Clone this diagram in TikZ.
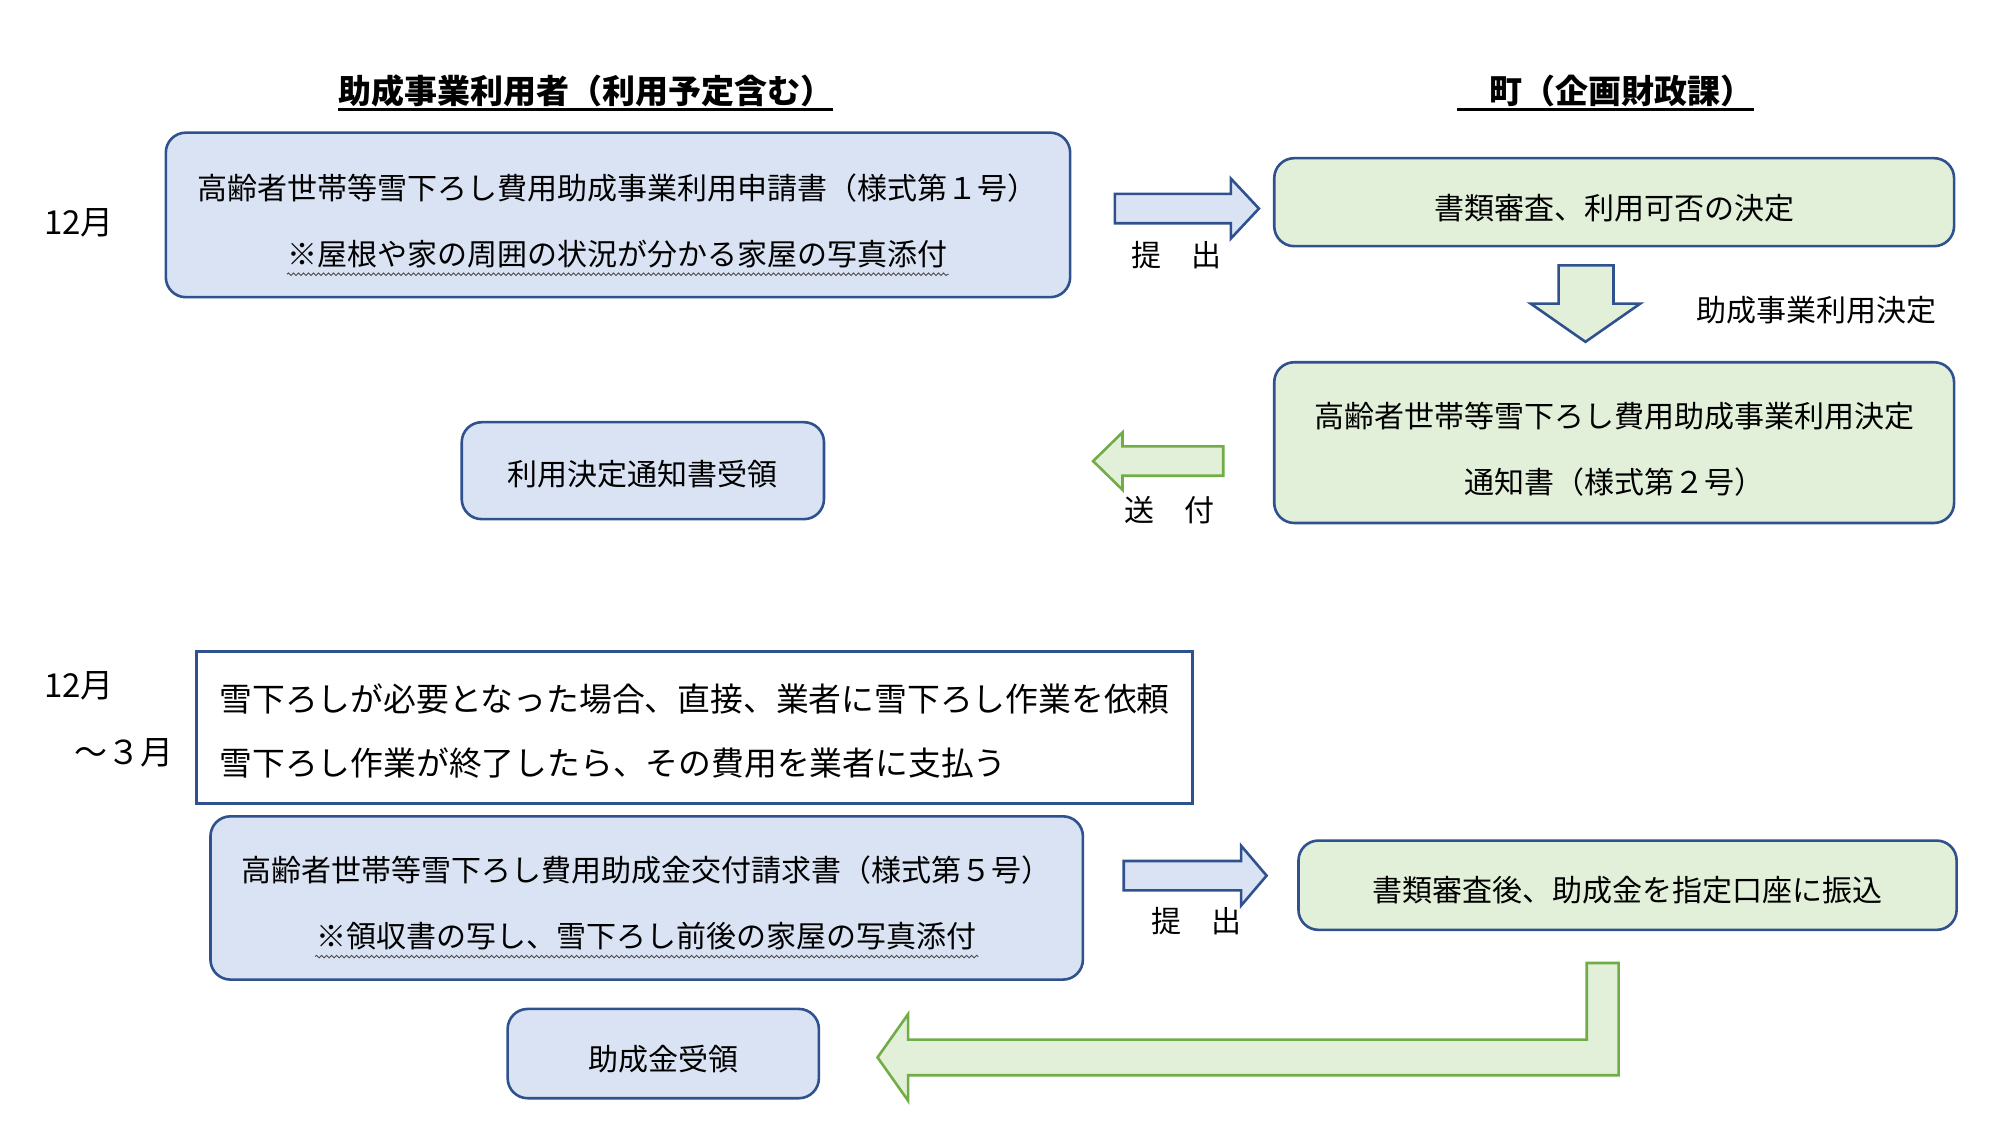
\documentclass[tikz,border=0pt]{standalone}
\usepackage{fontspec}
\setmainfont{Noto Sans CJK JP}
\usetikzlibrary{calc,decorations.pathmorphing}
\definecolor{bfill}{HTML}{DAE3F3}
\definecolor{gfill}{HTML}{E2F0D9}
\definecolor{bord}{HTML}{2F528F}
\definecolor{garr}{HTML}{70AD47}
\begin{document}
\begin{tikzpicture}[x=1.2755pt,y=-1.2755pt,
  sz/.style 2 args={minimum width={#1*1.2755pt}, minimum height={#2*1.2755pt}},
  box/.style={draw=bord, line width=2.6pt, rounded corners=20pt, inner sep=0pt},
  bluebox/.style={box, fill=bfill},
  greenbox/.style={box, fill=gfill},
  plainbox/.style={draw=bord, line width=2.6pt, inner sep=0pt, fill=white},
  txt/.style={inner sep=0pt, align=center, font=\fontsize{30}{66}\selectfont},
  ptxt/.style={inner sep=0pt, align=left, font=\fontsize{32.8}{64}\selectfont},
  lbl/.style={inner sep=0pt, font=\fontsize{30}{36}\selectfont},
  month/.style={inner sep=0pt, font=\fontsize{33}{40}\selectfont},
  title/.style={inner sep=0pt, font=\fontsize{33}{40}\selectfont\bfseries},
  uline/.style={line width=2.4pt},
  wavy/.style={decorate, decoration={snake, amplitude=1.3pt, segment length=5pt}, line width=0.9pt, draw=black!70},
  barrow/.style={draw=bord, fill=bfill, line width=2.6pt},
  garrow/.style={draw=garr, fill=gfill, line width=2.6pt},
  darrow/.style={draw=bord, fill=gfill, line width=2.6pt},
]
\useasboundingbox (0,0) rectangle (1568,900);

% titles
\node[title, anchor=base west] (t1) at (265,81) {助成事業利用者（利用予定含む）};
\draw[uline] ($(t1.base west)+(0,5)$) -- ($(t1.base east)+(0,5)$);
\node[title, anchor=base west] (t2) at (1142,81) {　町（企画財政課）};
\draw[uline] ($(t2.base west)+(0,5)$) -- ($(t2.base east)+(0,5)$);

% months
\node[month] (m1) at (62,175) {12月};
\node[month] (m2) at (62,538) {12月};
\node[month] (m3) at (97,590) {～３月};

% top section boxes
\node[bluebox, sz={709}{129}] (b1) at (484.5,168.5) {};
\node[txt] (b1t) at ($(b1.center)+(0,5)$) {高齢者世帯等雪下ろし費用助成事業利用申請書（様式第１号）\\※屋根や家の周囲の状況が分かる家屋の写真添付};
\draw[wavy] (225,215) -- (744,215);
\node[greenbox, sz={533}{69}] (g1) at (1265.5,158.5) {};
\node[txt] (g1t) at ($(g1.center)+(0,5)$) {書類審査、利用可否の決定};
\node[greenbox, sz={533}{126}] (g2) at (1265.5,347) {};
\node[txt] (g2t) at ($(g2.center)+(0,5)$) {高齢者世帯等雪下ろし費用助成事業利用決定\\通知書（様式第２号）};
\node[bluebox, sz={284}{76}] (b2) at (504,369) {};
\node[txt] (b2t) at ($(b2.center)+(0,3)$) {利用決定通知書受領};

% top arrows
\draw[barrow] (874,152) -- (965,152) -- (965,140) -- (987,163.5) -- (965,187) -- (965,175) -- (874,175) -- cycle;
\node[lbl] (l1) at (922,200) {提　出};
\draw[darrow] (1222,208) -- (1265,208) -- (1265,238) -- (1286,238) -- (1243,268) -- (1200,238) -- (1222,238) -- cycle;
\node[lbl] (l2) at (1424,243) {助成事業利用決定};
\draw[garrow] (959,350) -- (880,350) -- (880,339) -- (857,361.5) -- (880,384) -- (880,373) -- (959,373) -- cycle;
\node[lbl] (l3) at (917,400) {送　付};

% bottom section
\node[plainbox, sz={781}{119}] (w1) at (544.5,570.5) {};
\node[ptxt] (w1t) at ($(w1.center)+(0,3)$) {雪下ろしが必要となった場合、直接、業者に雪下ろし作業を依頼\\雪下ろし作業が終了したら、その費用を業者に支払う};
\node[bluebox, sz={684}{128}] (b3) at (507,704) {};
\node[txt] (b3t) at ($(b3.center)+(0,4)$) {高齢者世帯等雪下ろし費用助成金交付請求書（様式第５号）\\※領収書の写し、雪下ろし前後の家屋の写真添付};
\draw[wavy] (247,750) -- (767,750);
\node[greenbox, sz={516}{70}] (g3) at (1276,694) {};
\node[txt] (g3t) at ($(g3.center)+(0,4)$) {書類審査後、助成金を指定口座に振込};
\node[bluebox, sz={244}{70}] (b4) at (520,826) {};
\node[txt] (b4t) at ($(b4.center)+(0,4)$) {助成金受領};

\draw[barrow] (881,675) -- (973,675) -- (973,663) -- (993,686.5) -- (973,710) -- (973,698) -- (881,698) -- cycle;
\node[lbl] (l4) at (938,722) {提　出};
\draw[garrow] (1244,755) -- (1269,755) -- (1269,843) -- (712,843) -- (712,863) -- (688,829) -- (712,795) -- (712,815) -- (1244,815) -- cycle;
\end{tikzpicture}
\end{document}
